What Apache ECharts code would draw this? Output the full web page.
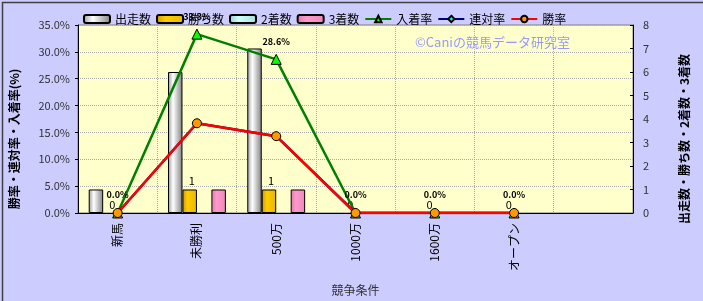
<!DOCTYPE html>
<html><head><meta charset="utf-8">
<script src="https://cdn.jsdelivr.net/npm/echarts@6/dist/echarts.min.js"></script>
<style>html,body{margin:0;padding:0;background:#CCCCFF;}#c{width:703px;height:301px;}</style>
</head><body><div id="c"></div>
<script>
const categories = ['新馬','未勝利','500万','1000万','1600万','オープン',''];
const starts   = [1, 6, 7, 0, 0, 0, '-'];
const wins     = [0, 1, 1, 0, 0, 0, '-'];
const seconds  = [0, 0, 0, 0, 0, 0, '-'];
const thirds   = [0, 1, 1, 0, 0, 0, '-'];
const showRate  = [0, 33.3, 28.6, 0, 0, 0, '-'];
const placeRate = [0, 16.7, 14.3, 0, 0, 0, '-'];
const winRate   = [0, 16.7, 14.3, 0, 0, 0, '-'];
const leftTicks = [0, 5, 10, 15, 20, 25, 30, 35];
const rightTicks = [0, 1, 2, 3, 4, 5, 6, 7, 8];

const FONT = '"Noto Sans CJK JP", "Noto Sans", sans-serif';
function grad(a, b, c) {
  return new echarts.graphic.LinearGradient(0, 0, 1, 0, [
    {offset: 0, color: a}, {offset: 0.35, color: b}, {offset: 1, color: c}]);
}
// zero-height bars are drawn without a border
const barData = arr => arr.map(v => v === 0 ? {value: 0, itemStyle: {borderWidth: 0, opacity: 0}} : v);
const chart = echarts.init(document.getElementById('c'), null, {renderer: 'canvas'});
const barStyle = (c) => ({color: c, borderColor: '#000', borderWidth: 1});
chart.setOption({
  animation: false,
  backgroundColor: '#CCCCFF',
  textStyle: {fontFamily: FONT},
  grid: {left: 78, right: 70, top: 25, bottom: 88, show: true, backgroundColor: '#FFFFCC', borderColor: '#808080', borderWidth: 1},
  legend: {
    left: 78, top: 8, itemWidth: 26, itemHeight: 8, itemGap: 5,
    textStyle: {fontSize: 12, color: '#000', fontFamily: FONT},
    data: [
      {name: '出走数', icon: 'roundRect'}, {name: '勝ち数', icon: 'roundRect'},
      {name: '2着数', icon: 'roundRect'}, {name: '3着数', icon: 'roundRect'},
      '入着率', '連対率', '勝率'
    ]
  },
  graphic: [
    {type: 'text', left: 415, top: 36, z: 1, style: {text: '©Caniの競馬データ研究室', fill: '#9999FF', font: '13px ' + FONT}},
    {type: 'rect', left: 0, top: 0, z: 100, shape: {width: 702, height: 300}, style: {fill: 'none', stroke: '#404040', lineWidth: 1.5}}
  ],
  xAxis: {
    type: 'category', data: categories,
    name: '競争条件', nameLocation: 'middle', nameGap: 71,
    nameTextStyle: {fontSize: 12, color: '#333', fontFamily: FONT},
    axisLine: {lineStyle: {color: '#000'}},
    axisTick: {show: false},
    splitLine: {show: true, lineStyle: {color: '#aaa', type: 'dotted'}},
    axisLabel: {rotate: 90, fontSize: 12, color: '#000', margin: 10, interval: 0}
  },
  yAxis: [
    {
      type: 'value', min: 0, max: 35, interval: 5,
      name: '勝率・連対率・入着率(%)', nameLocation: 'middle', nameGap: 58, nameRotate: 90,
      nameTextStyle: {fontSize: 12, color: '#000', fontWeight: 'bold', fontFamily: FONT, padding: [0, 40, 0, 0]},
      axisLine: {show: true, lineStyle: {color: '#000'}},
      axisTick: {show: true, length: 3, lineStyle: {color: '#000'}},
      splitLine: {show: true, lineStyle: {color: '#aaa', type: 'dotted'}},
      axisLabel: {fontSize: 11, color: '#333', margin: 8,
        formatter: v => leftTicks.includes(v) ? v.toFixed(1) + '%' : ''}
    },
    {
      type: 'value', min: 0, max: 8, interval: 1,
      name: '出走数・勝ち数・2着数・3着数', nameLocation: 'middle', nameGap: 45, nameRotate: 90,
      nameTextStyle: {fontSize: 12, color: '#000', fontWeight: 'bold', fontFamily: FONT, padding: [0, 40, 0, 0]},
      axisLine: {show: true, lineStyle: {color: '#000'}},
      axisTick: {show: true, inside: true, length: 3, lineStyle: {color: '#000'}},
      splitLine: {show: false},
      axisLabel: {fontSize: 11, color: '#333', margin: 10,
        formatter: v => rightTicks.includes(v) ? String(v) : ''}
    }
  ],
  series: [
    {name: '出走数', type: 'bar', yAxisIndex: 1, data: barData(starts), barGap: '0%', barCategoryGap: '27%',
      itemStyle: barStyle(grad('#999999', '#ffffff', '#808080'))},
    {name: '勝ち数', type: 'bar', yAxisIndex: 1, data: barData(wins),
      itemStyle: barStyle(grad('#cc9900', '#ffcc00', '#e6b800')),
      label: {show: true, position: 'top', distance: 3, fontSize: 11, color: '#000', offset: [2, 0], opacity: 1}},
    {name: '2着数', type: 'bar', yAxisIndex: 1, data: barData(seconds),
      itemStyle: barStyle(grad('#99cccc', '#ccffff', '#aadddd'))},
    {name: '3着数', type: 'bar', yAxisIndex: 1, data: barData(thirds),
      itemStyle: barStyle(grad('#dd77aa', '#ff99cc', '#ee88bb'))},
    {name: '入着率', type: 'line', yAxisIndex: 0, data: showRate,
      lineStyle: {color: '#008000', width: 2.5}, itemStyle: {color: '#00ff00', borderColor: '#000', borderWidth: 1},
      symbol: 'triangle', symbolSize: 10, showAllSymbol: true, z: 5,
      label: {show: true, position: 'top', distance: 8, fontSize: 9, fontWeight: 'bold', color: '#000',
        formatter: p => p.value.toFixed(1) + '%'}},
    {name: '連対率', type: 'line', yAxisIndex: 0, data: placeRate,
      lineStyle: {color: '#000080', width: 2.5}, itemStyle: {color: '#00ffff', borderColor: '#000', borderWidth: 1},
      symbol: 'diamond', symbolSize: 9, showAllSymbol: true, z: 6},
    {name: '勝率', type: 'line', yAxisIndex: 0, data: winRate,
      lineStyle: {color: '#ff0000', width: 2.5}, itemStyle: {color: '#ff9900', borderColor: '#000', borderWidth: 1},
      symbol: 'circle', symbolSize: 9, showAllSymbol: true, z: 7}
  ]
});
</script></body></html>
